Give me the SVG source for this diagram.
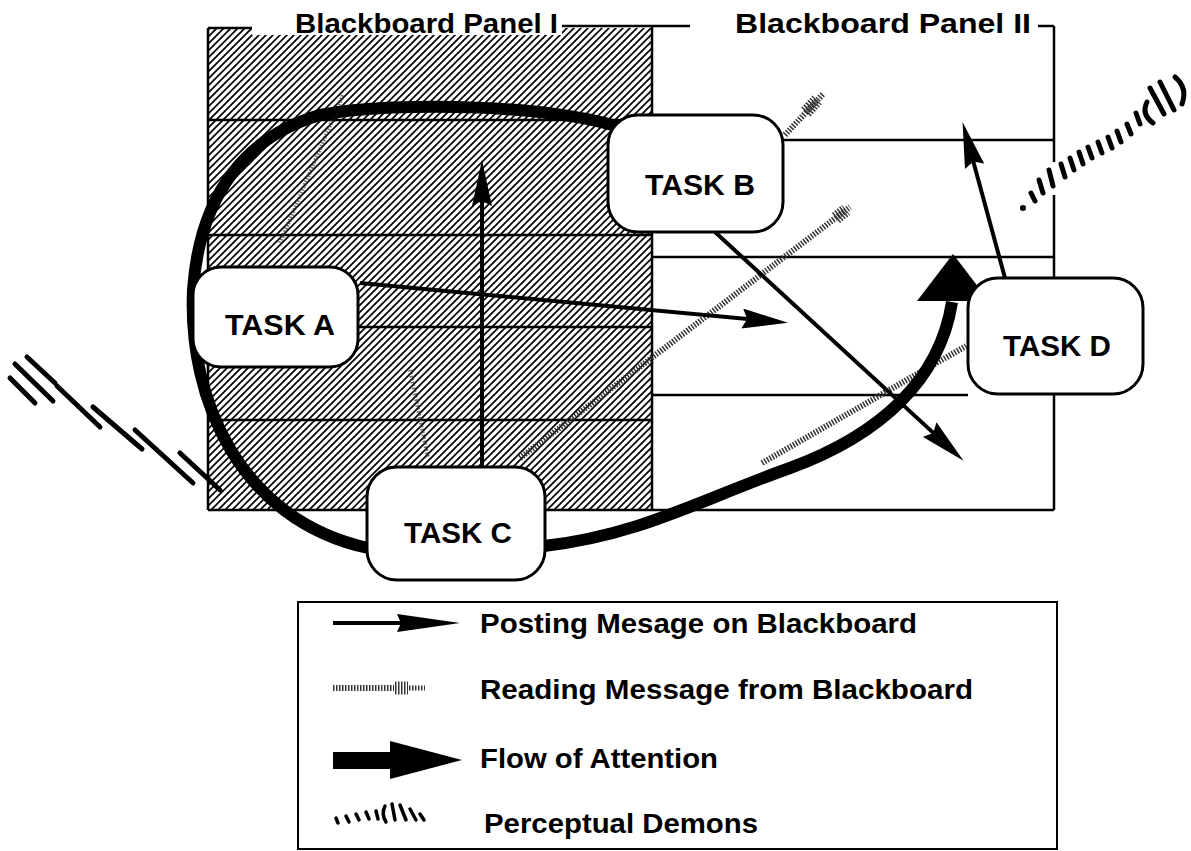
<svg xmlns="http://www.w3.org/2000/svg" width="1191" height="851" viewBox="0 0 1191 851">
  <defs>
    <pattern id="hatch" patternUnits="userSpaceOnUse" width="7" height="7">
      <path d="M-1,1 l2,-2 M0,7 l7,-7 M6,8 l2,-2" stroke="#000" stroke-width="1.7"/>
    </pattern>
    <marker id="postHead" markerUnits="userSpaceOnUse" viewBox="0 0 46 20" refX="26" refY="10" markerWidth="46" markerHeight="20" orient="auto">
      <path d="M0,0 L46,10 L0,20 L5,10 Z" fill="#000"/>
    </marker>
    <style>
      .pl { stroke:#000; stroke-width:2.5; fill:none; }
      .task rect { fill:#fff; stroke:#000; stroke-width:3; }
      .task text { font-family:"Liberation Sans", Arial, sans-serif; font-weight:bold; font-size:29px; text-anchor:middle; fill:#000; }
      .title { font-family:"Liberation Sans", Arial, sans-serif; font-weight:bold; font-size:28px; fill:#000; }
      .post { stroke:#000; stroke-width:4; fill:none; marker-end:url(#postHead); }
      .attn { stroke:#000; stroke-width:12; fill:none; }
      .read { stroke:#333; stroke-width:6; stroke-dasharray:1.5 1.5; fill:none; }
      .readf { stroke:#3a3a3a; stroke-width:4; stroke-dasharray:1.5 1.5; fill:none; opacity:0.75; }
      .readh { stroke:#333; stroke-width:13; stroke-dasharray:1.5 1.5; fill:none; }
      .demon { stroke:#000; stroke-width:5; stroke-linecap:round; fill:none; }
      .ldemon { stroke:#000; stroke-width:3.5; stroke-linecap:round; fill:none; }
      .ltext { font-family:"Liberation Sans", Arial, sans-serif; font-weight:bold; font-size:27px; fill:#000; }
    </style>
  </defs>
  <rect width="1191" height="851" fill="#fff"/>

  <g id="panels">
    <g id="panel-1">
      <rect x="208" y="28" width="444" height="482" fill="url(#hatch)"/>
      <rect x="252" y="0" width="310" height="35" fill="#fff"/>
      <line class="pl" x1="208" y1="28" x2="252" y2="28"/>
      <line class="pl" x1="562" y1="26" x2="690" y2="26"/>
      <line class="pl" x1="208" y1="28" x2="208" y2="510"/>
      <line class="pl" x1="652" y1="26" x2="652" y2="510"/>
      <line class="pl" x1="208" y1="120" x2="652" y2="120"/>
      <line class="pl" x1="208" y1="235" x2="652" y2="235"/>
      <line class="pl" x1="208" y1="327" x2="652" y2="327"/>
      <line class="pl" x1="208" y1="420" x2="652" y2="420"/>
      <line class="pl" x1="208" y1="510" x2="652" y2="510"/>
      <text class="title" x="295" y="33" textLength="263" lengthAdjust="spacingAndGlyphs">Blackboard Panel I</text>
    </g>
    <g id="panel-2">
      <line class="pl" x1="1038" y1="26" x2="1054" y2="26"/>
      <line class="pl" x1="1054" y1="26" x2="1054" y2="162"/>
      <line class="pl" x1="1054" y1="195" x2="1054" y2="510"/>
      <line class="pl" x1="782" y1="140" x2="1054" y2="140"/>
      <line class="pl" x1="652" y1="257" x2="1054" y2="257"/>
      <line class="pl" x1="652" y1="395" x2="968" y2="395"/>
      <line class="pl" x1="652" y1="510" x2="1054" y2="510"/>
      <text class="title" x="735" y="33" textLength="296" lengthAdjust="spacingAndGlyphs">Blackboard Panel II</text>
    </g>
  </g>

  <g id="connectors">
    <!-- reading messages -->
    <line class="readf" x1="280" y1="243" x2="343" y2="95"/>
    <line class="readf" x1="410" y1="370" x2="428" y2="458"/>
    <line class="read" x1="520" y1="458" x2="850" y2="207"/>
    <line class="readh" x1="836" y1="218" x2="846" y2="210"/>
    <line class="read" x1="762" y1="463" x2="966" y2="346"/>
    <line class="read" x1="785" y1="135" x2="823" y2="94"/>
    <line class="readh" x1="806" y1="112" x2="817" y2="100"/>
    <!-- flow of attention -->
    <path class="attn" d="M 622,128 C 560,106 400,100 320,115 C 250,135 200,190 193,290 C 188,400 240,520 368,548"/>
    <path class="attn" d="M 544,546 C 640,535 700,500 790,468 C 880,435 940,380 952,302"/>
    <polygon points="953,254 917,301 989,301" fill="#000"/>
    <!-- posting messages -->
    <line class="post" x1="360" y1="283" x2="768.1" y2="320.9"/>
    <line class="post" x1="482" y1="467" x2="482" y2="180"/>
    <line class="post" x1="715" y1="232" x2="948.8" y2="447.1"/>
    <line class="post" x1="1005" y1="278" x2="967.8" y2="141.2"/>
  </g>

  <g id="task-a" class="task">
    <rect x="193" y="267" width="165" height="100" rx="28"/>
    <text x="280" y="335" textLength="110" lengthAdjust="spacingAndGlyphs">TASK A</text>
  </g>
  <g id="task-b" class="task">
    <rect x="608" y="115" width="175" height="117" rx="30"/>
    <text x="700" y="195" textLength="110" lengthAdjust="spacingAndGlyphs">TASK B</text>
  </g>
  <g id="task-c" class="task">
    <rect x="367" y="467" width="178" height="113" rx="30"/>
    <text x="458" y="543" textLength="108" lengthAdjust="spacingAndGlyphs">TASK C</text>
  </g>
  <g id="task-d" class="task">
    <rect x="968" y="278" width="175" height="116" rx="30"/>
    <text x="1057" y="356" textLength="108" lengthAdjust="spacingAndGlyphs">TASK D</text>
  </g>

  <g id="demons">
    <g id="demon-left">
      <line class="demon" x1="10" y1="378" x2="35" y2="403"/>
      <line class="demon" x1="15" y1="364" x2="53" y2="401"/>
      <line class="demon" x1="27" y1="357" x2="55" y2="383"/>
      <line class="demon" x1="57" y1="386" x2="100" y2="427"/>
      <line class="demon" x1="93" y1="407" x2="142" y2="449"/>
      <line class="demon" x1="135" y1="430" x2="193" y2="483"/>
      <line class="demon" x1="180" y1="453" x2="220" y2="490"/>
    </g>
    <g id="demon-right">
      <circle cx="1023" cy="208" r="3" fill="#000"/>
      <line class="demon" x1="1031" y1="193" x2="1035" y2="201"/>
      <line class="demon" x1="1039" y1="180" x2="1043" y2="193"/>
      <line class="demon" x1="1049" y1="170" x2="1053" y2="186"/>
      <line class="demon" x1="1061" y1="164" x2="1065" y2="177"/>
      <line class="demon" x1="1070" y1="158" x2="1074" y2="170"/>
      <line class="demon" x1="1079" y1="152" x2="1083" y2="164"/>
      <line class="demon" x1="1088" y1="147" x2="1092" y2="158"/>
      <line class="demon" x1="1098" y1="142" x2="1102" y2="153"/>
      <line class="demon" x1="1108" y1="137" x2="1112" y2="148"/>
      <line class="demon" x1="1117" y1="131" x2="1121" y2="142"/>
      <line class="demon" x1="1127" y1="124" x2="1131" y2="134"/>
      <line class="demon" x1="1136" y1="113" x2="1140" y2="124"/>
      <path class="demon" d="M 1147,102 Q 1141,114 1153,123"/>
      <line class="demon" x1="1150" y1="88" x2="1164" y2="114"/>
      <line class="demon" x1="1160" y1="82" x2="1174" y2="110"/>
      <path class="demon" d="M 1175,77 Q 1188,88 1182,104"/>
    </g>
  </g>

  <g id="legend">
    <rect x="298" y="602" width="759" height="247" fill="none" stroke="#000" stroke-width="2"/>
    <line x1="333" y1="623" x2="402" y2="623" stroke="#000" stroke-width="4"/>
    <polygon points="397,614 460,623 397,632 401,623" fill="#000"/>
    <text class="ltext" x="480" y="633" textLength="437" lengthAdjust="spacingAndGlyphs">Posting Mesage on Blackboard</text>

    <line class="read" x1="333" y1="688" x2="394" y2="688"/>
    <line class="readh" x1="395" y1="688" x2="408" y2="688"/>
    <line class="read" x1="409" y1="688" x2="425" y2="688" style="stroke-width:5"/>
    <text class="ltext" x="480" y="699" textLength="493" lengthAdjust="spacingAndGlyphs">Reading Message from Blackboard</text>

    <rect x="333" y="752" width="62" height="17" fill="#000"/>
    <polygon points="390,741 462,760 390,779" fill="#000"/>
    <text class="ltext" x="480" y="768" textLength="238" lengthAdjust="spacingAndGlyphs">Flow of Attention</text>

    <g id="legend-demon">
      <line class="ldemon" x1="336" y1="818" x2="338" y2="823"/>
      <line class="ldemon" x1="346" y1="816" x2="349" y2="822"/>
      <line class="ldemon" x1="356" y1="814" x2="359" y2="820"/>
      <line class="ldemon" x1="366" y1="812" x2="369" y2="819"/>
      <line class="ldemon" x1="376" y1="811" x2="378" y2="819"/>
      <path class="ldemon" d="M 385,806 Q 381,814 386,822"/>
      <line class="ldemon" x1="392" y1="804" x2="395" y2="820"/>
      <line class="ldemon" x1="400" y1="805" x2="406" y2="820"/>
      <line class="ldemon" x1="410" y1="809" x2="416" y2="820"/>
      <line class="ldemon" x1="420" y1="814" x2="424" y2="820"/>
    </g>
    <text class="ltext" x="484" y="833" textLength="274" lengthAdjust="spacingAndGlyphs">Perceptual Demons</text>
  </g>
</svg>
